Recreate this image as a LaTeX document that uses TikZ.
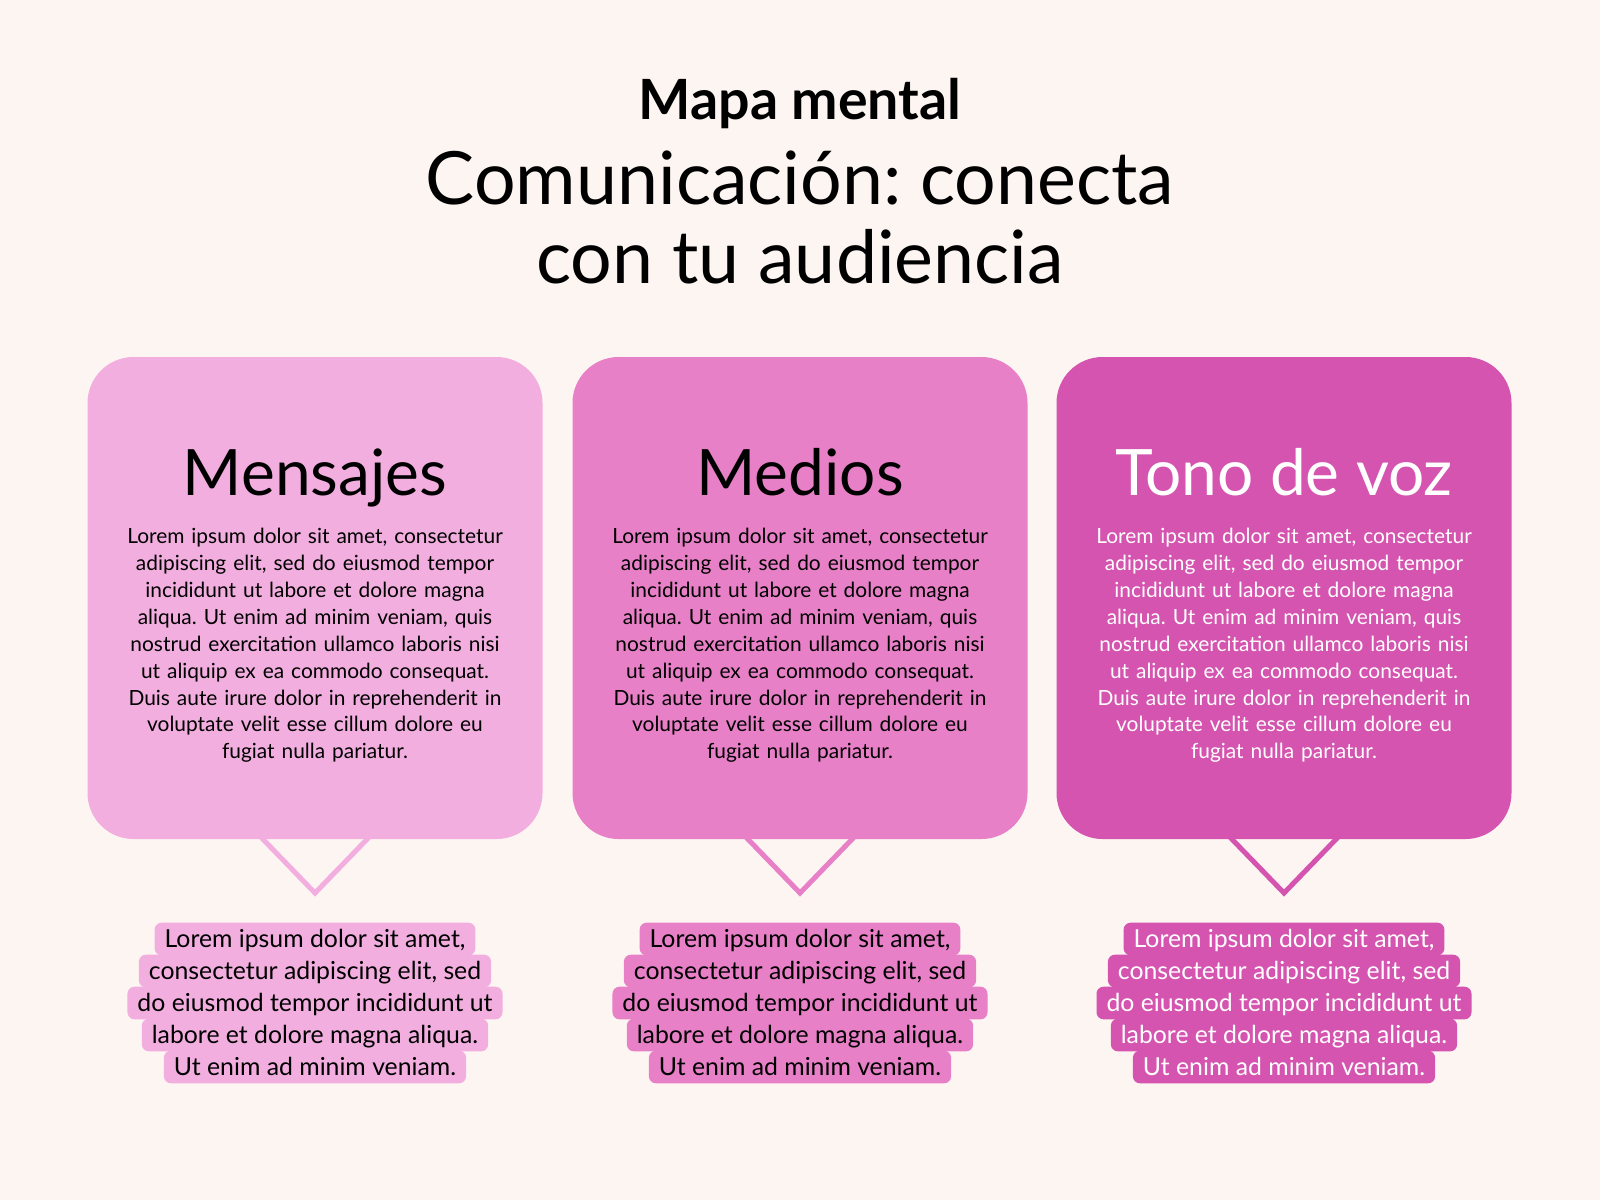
\documentclass[tikz,border=0pt]{standalone}
\usepackage{fontspec}
\setmainfont{Lato}
\frenchspacing
\definecolor{bg}{HTML}{FDF5F1}
\definecolor{pinkA}{HTML}{F3AEE0}
\definecolor{pinkB}{HTML}{E880C8}
\definecolor{pinkC}{HTML}{D454B0}
\tikzset{
  panel/.style={minimum width=455pt, minimum height=482pt, rounded corners=46pt, inner sep=0pt},
  heading/.style={anchor=base, inner sep=0pt, font=\fontsize{64}{70}\selectfont},
  bodytext/.style={anchor=north, inner sep=0pt, text width=450pt, align=center, font=\fontsize{20.9}{26.9}\selectfont},
  vline/.style={line width=5pt, line join=miter},
  botline/.style={inner xsep=10pt, inner ysep=0pt, text height=20pt, text depth=4pt, minimum height=32.6pt, rounded corners=7pt, font=\fontsize{24.8}{31}\selectfont},
}
\newcommand\botblock[4]{%
  \node[botline, fill=#2, text=#3] (#4-1) at (#1,939) {Lorem ipsum dolor sit amet,};
  \node[botline, fill=#2, text=#3] (#4-2) at (#1,971) {consectetur adipiscing elit, sed};
  \node[botline, fill=#2, text=#3] (#4-3) at (#1,1003) {do eiusmod tempor incididunt ut};
  \node[botline, fill=#2, text=#3] (#4-4) at (#1,1035) {labore et dolore magna aliqua.};
  \node[botline, fill=#2, text=#3] (#4-5) at (#1,1067) {Ut enim ad minim veniam.};
}
\newcommand\bodylorem{Lorem ipsum dolor sit amet, consectetur\\
adipiscing elit, sed do eiusmod tempor\\
incididunt ut labore et dolore magna\\
aliqua. Ut enim ad minim veniam, quis\\
nostrud exercitation ullamco laboris nisi\\
ut aliquip ex ea commodo consequat.\\
Duis aute irure dolor in reprehenderit in\\
voluptate velit esse cillum dolore eu\\
fugiat nulla pariatur.}
\begin{document}
\begin{tikzpicture}[x=1pt,y=-1pt]
\fill[bg] (0,0) rectangle (1600,1200);
\useasboundingbox (0,0) rectangle (1600,1200);

% titles
\node[anchor=base, inner sep=0pt, font=\fontsize{55.5}{60}\selectfont\bfseries] (t0) at (800,119) {Mapa mental};
\node[anchor=base, inner sep=0pt, font=\fontsize{73.5}{79}\selectfont] (t1) at (800,204) {Comunicación: conecta};
\node[anchor=base, inner sep=0pt, font=\fontsize{73.5}{79}\selectfont] (t2) at (800,283) {con tu audiencia};

% V pointers (drawn first, tops hidden by panels)
\coordinate (vA1) at (256,832); \coordinate (tipA) at (315,893); \coordinate (vA2) at (374,832);
\coordinate (vB1) at (741,832); \coordinate (tipB) at (800,893); \coordinate (vB2) at (859,832);
\coordinate (vC1) at (1225,832); \coordinate (tipC) at (1284,893); \coordinate (vC2) at (1343,832);
\draw[vline, draw=pinkA] (vA1) -- (tipA) -- (vA2);
\draw[vline, draw=pinkB] (vB1) -- (tipB) -- (vB2);
\draw[vline, draw=pinkC] (vC1) -- (tipC) -- (vC2);

% panels
\node[panel, fill=pinkA] (boxA) at (315,598) {};
\node[panel, fill=pinkB] (boxB) at (800,598) {};
\node[panel, fill=pinkC] (boxC) at (1284,598) {};

\node[heading] (hA) at (315,495) {Mensajes};
\node[heading] (hB) at (800,495) {Medios};
\node[heading, text=white] (hC) at (1284,495) {Tono de voz};

\node[bodytext] (bA) at (315,528) {\bodylorem};
\node[bodytext] (bB) at (800,528) {\bodylorem};
\node[bodytext, text=white] (bC) at (1284,528) {\bodylorem};

% bottom highlighted texts
\botblock{315}{pinkA}{black}{lA}
\botblock{800}{pinkB}{black}{lB}
\botblock{1284}{pinkC}{white}{lC}
\end{tikzpicture}
\end{document}
